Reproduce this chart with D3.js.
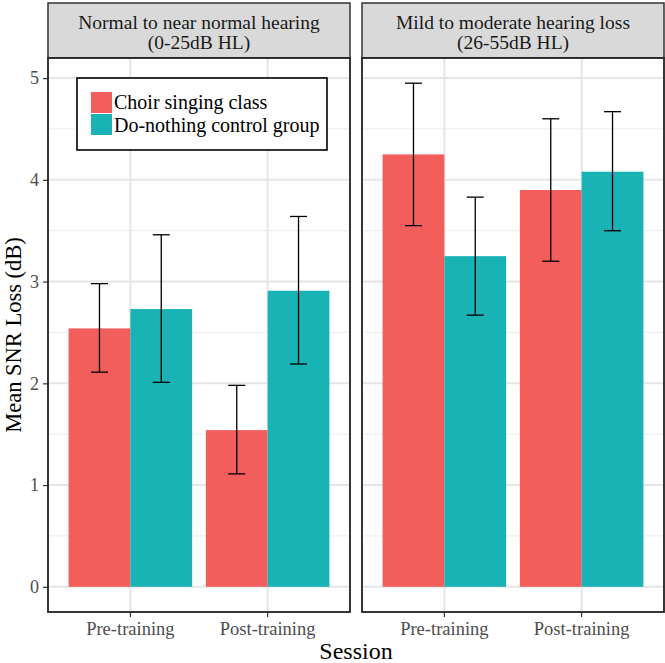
<!DOCTYPE html>
<html lang="en">
<head>
<meta charset="UTF-8">
<title>Mean SNR Loss</title>
<script src="https://cdnjs.cloudflare.com/ajax/libs/d3/7.8.5/d3.min.js"></script>
<style>
  body { margin: 0; background: #fff; }
  svg text { font-family: "Liberation Serif", "DejaVu Serif", serif; }
</style>
</head>
<body>
<svg id="chart" width="665" height="663"></svg>
<script>
    // data
    const panels = ['normal', 'mild'];
    const panelTitles = [
      ['Normal to near normal hearing', '(0-25dB HL)'],
      ['Mild to moderate hearing loss', '(26-55dB HL)']
    ];
    const sessions = ['Pre-training', 'Post-training'];
    const groups = ['Choir singing class', 'Do-nothing control group'];
    const groupColors = ['#F25E5C', '#19B3B6'];

    // means per panel, [session][group]
    const meanNormal = [[2.54, 2.73], [1.54, 2.91]];
    const meanMild = [[4.25, 3.25], [3.90, 4.08]];
    const lowNormal = [[2.11, 2.01], [1.11, 2.19]];
    const highNormal = [[2.98, 3.46], [1.98, 3.64]];
    const lowMild = [[3.55, 2.67], [3.20, 3.50]];
    const highMild = [[4.95, 3.83], [4.60, 4.67]];

    const yTicks = [0, 1, 2, 3, 4, 5];

    const means = [meanNormal, meanMild];
    const lows = [lowNormal, lowMild];
    const highs = [highNormal, highMild];

    const svg = d3.select('#chart');
    const serif = '"Liberation Serif", "DejaVu Serif", serif';

    const panelX = [48, 362];
    const panelW = 302;
    const stripTop = 3, stripBottom = 58;
    const panelTop = 58, panelBottom = 612;

    const y = d3.scaleLinear()
      .domain([-0.2475, 5.1975])
      .range([panelBottom, panelTop]);

    // y axis
    const yAxis = d3.axisLeft(y).tickValues(yTicks).tickFormat(d3.format('d')).tickSize(5).tickPadding(4);
    const ya = svg.append('g')
      .attr('transform', `translate(${panelX[0]},0)`)
      .attr('font-family', serif)
      .call(yAxis);
    ya.select('.domain').remove();
    ya.selectAll('line').attr('stroke', '#333').attr('stroke-width', 1.2);
    ya.selectAll('text')
      .attr('fill', '#4d4d4d')
      .style('font-size', '18px');

    svg.append('text')
      .attr('transform', `translate(21,${(panelTop + panelBottom) / 2}) rotate(-90)`)
      .attr('text-anchor', 'middle')
      .attr('fill', '#000')
      .style('font-size', '22.5px')
      .text('Mean SNR Loss (dB)');

    panels.forEach((p, pi) => {
      const x0 = panelX[pi];
      // ggplot-like discrete scale: 0.6 expansion each side, bars 0.9 wide
      const unit = panelW / 2.2;
      const x = d3.scalePoint()
        .domain(sessions)
        .range([x0 + 0.6 * unit, x0 + 1.6 * unit]);
      const xg = d3.scaleBand().domain(groups).range([-0.45 * unit, 0.45 * unit]);

      const g = svg.append('g');

      // strip
      g.append('rect')
        .attr('x', x0).attr('y', stripTop)
        .attr('width', panelW).attr('height', stripBottom - stripTop)
        .attr('fill', '#d9d9d9').attr('stroke', '#333').attr('stroke-width', 1.5);
      panelTitles[pi].forEach((t, li) => {
        g.append('text')
          .attr('x', x0 + panelW / 2)
          .attr('y', 29 + li * 20)
          .attr('text-anchor', 'middle')
          .attr('fill', '#1a1a1a')
          .style('font-size', '19.5px')
          .text(t);
      });

      // panel
      g.append('rect')
        .attr('x', x0).attr('y', panelTop)
        .attr('width', panelW).attr('height', panelBottom - panelTop)
        .attr('fill', '#fff');

      // grid
      const minor = d3.range(0.5, 5.01, 1);
      g.selectAll('.minor').data(minor).enter().append('line')
        .attr('x1', x0).attr('x2', x0 + panelW)
        .attr('y1', d => y(d)).attr('y2', d => y(d))
        .attr('stroke', '#f0f0f0').attr('stroke-width', 1.2);
      g.selectAll('.major').data(yTicks).enter().append('line')
        .attr('x1', x0).attr('x2', x0 + panelW)
        .attr('y1', d => y(d)).attr('y2', d => y(d))
        .attr('stroke', '#e6e6e6').attr('stroke-width', 2);
      g.selectAll('.vmajor').data(sessions).enter().append('line')
        .attr('x1', d => x(d)).attr('x2', d => x(d))
        .attr('y1', panelTop).attr('y2', panelBottom)
        .attr('stroke', '#e6e6e6').attr('stroke-width', 2);

      // bars
      sessions.forEach((s, si) => {
        groups.forEach((gr, gi) => {
          g.append('rect')
            .attr('x', x(s) + xg(gr))
            .attr('width', xg.bandwidth())
            .attr('y', y(means[pi][si][gi]))
            .attr('height', y(0) - y(means[pi][si][gi]))
            .attr('fill', groupColors[gi]);
        });
      });

      // error bars
      const capHalf = 8.5;
      sessions.forEach((s, si) => {
        groups.forEach((gr, gi) => {
          const ex = x(s) + xg(gr) + xg.bandwidth() / 2;
          const lo = y(lows[pi][si][gi]), hi = y(highs[pi][si][gi]);
          const eg = g.append('g').attr('stroke', '#000').attr('stroke-width', 1.3);
          eg.append('line').attr('x1', ex).attr('x2', ex).attr('y1', lo).attr('y2', hi);
          eg.append('line').attr('x1', ex - capHalf).attr('x2', ex + capHalf).attr('y1', lo).attr('y2', lo);
          eg.append('line').attr('x1', ex - capHalf).attr('x2', ex + capHalf).attr('y1', hi).attr('y2', hi);
        });
      });

      // border
      g.append('rect')
        .attr('x', x0).attr('y', panelTop)
        .attr('width', panelW).attr('height', panelBottom - panelTop)
        .attr('fill', 'none').attr('stroke', '#222').attr('stroke-width', 1.8);

      // x ticks and labels
      sessions.forEach(s => {
        g.append('line')
          .attr('x1', x(s)).attr('x2', x(s))
          .attr('y1', panelBottom).attr('y2', panelBottom + 5)
          .attr('stroke', '#333').attr('stroke-width', 1.2);
        g.append('text')
          .attr('x', x(s)).attr('y', 635)
          .attr('text-anchor', 'middle')
          .attr('fill', '#4d4d4d')
          .style('font-size', '18.5px')
          .text(s);
      });
    });

    svg.append('text')
      .attr('x', (panelX[0] + panelX[1] + panelW) / 2)
      .attr('y', 659)
      .attr('text-anchor', 'middle')
      .attr('fill', '#000')
      .style('font-size', '24px')
      .text('Session');

    // legend
    const lg = svg.append('g');
    lg.append('rect')
      .attr('x', 77).attr('y', 78).attr('width', 250).attr('height', 72)
      .attr('fill', '#fff').attr('stroke', '#000').attr('stroke-width', 1.6);
    groups.forEach((gr, i) => {
      lg.append('rect')
        .attr('x', 91).attr('y', 92 + i * 22)
        .attr('width', 21).attr('height', 21)
        .attr('fill', groupColors[i]);
      lg.append('text')
        .attr('x', 114).attr('y', 109 + i * 23)
        .attr('fill', '#000')
        .style('font-size', '20px')
        .text(gr);
    });
</script>
</body>
</html>
